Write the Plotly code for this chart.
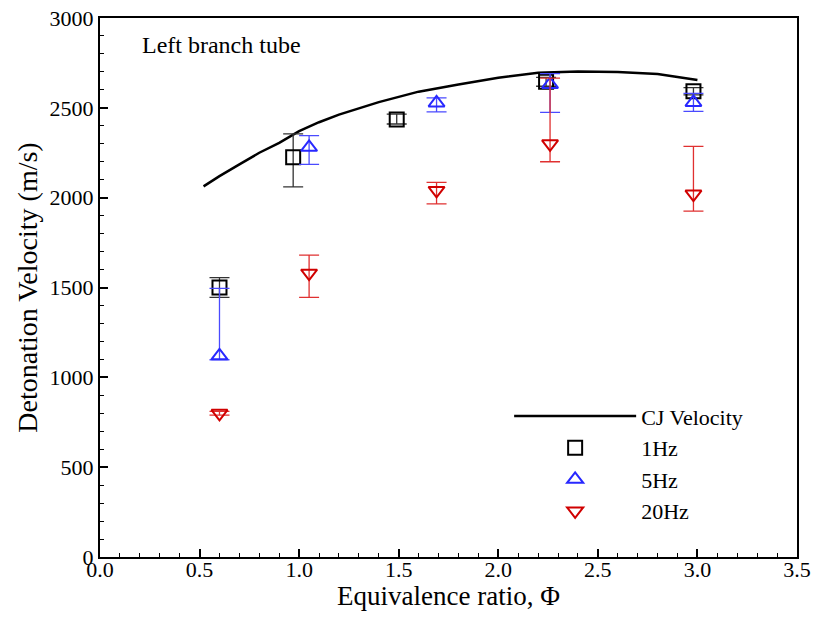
import plotly.graph_objects as go

# CJ velocity curve
cj_phi = [0.52, 0.6, 0.7, 0.8, 0.9, 1.0, 1.1, 1.2, 1.4, 1.6, 1.8, 2.0, 2.2, 2.4, 2.6, 2.8, 3.0]
cj_vel = [2063, 2120, 2185, 2250, 2305, 2370, 2420, 2462, 2532, 2590, 2630, 2668, 2695, 2702, 2700, 2688, 2655]

# 1 Hz
hz1_phi = [0.60, 0.97, 1.49, 2.24, 2.98]
hz1_vel = [1500, 2225, 2435, 2645, 2592]
hz1_up = [55, 130, 30, 25, 20]
hz1_dn = [55, 165, 25, 25, 20]

# 5 Hz
hz5_phi = [0.60, 1.05, 1.69, 2.26, 2.98]
hz5_vel = [1120, 2280, 2527, 2630, 2530]
hz5_up = [375, 65, 28, 60, 50]
hz5_dn = [22, 95, 50, 155, 50]

# 20 Hz
hz20_phi = [0.60, 1.05, 1.69, 2.26, 2.98]
hz20_vel = [800, 1580, 2040, 2300, 2020]
hz20_up = [10, 100, 45, 365, 265]
hz20_dn = [10, 135, 75, 100, 95]

FONT = "Liberation Serif, Times New Roman, serif"

fig = go.Figure()
fig.add_trace(go.Scatter(x=cj_phi, y=cj_vel, mode="lines", name="CJ Velocity",
                         line=dict(color="black", width=2.5)))
fig.add_trace(go.Scatter(
    x=hz1_phi, y=hz1_vel, mode="markers", name="1Hz",
    marker=dict(symbol="square-open", size=14, color="black", line=dict(width=2)),
    error_y=dict(type="data", symmetric=False, array=hz1_up, arrayminus=hz1_dn,
                 color="#333333", thickness=1.3, width=10)))
fig.add_trace(go.Scatter(
    x=hz5_phi, y=hz5_vel, mode="markers", name="5Hz",
    marker=dict(symbol="triangle-up-open", size=14, color="#2828ff", line=dict(width=2)),
    error_y=dict(type="data", symmetric=False, array=hz5_up, arrayminus=hz5_dn,
                 color="#4a4aff", thickness=1.3, width=10)))
fig.add_trace(go.Scatter(
    x=hz20_phi, y=hz20_vel, mode="markers", name="20Hz",
    marker=dict(symbol="triangle-down-open", size=14, color="#d00000", line=dict(width=2)),
    error_y=dict(type="data", symmetric=False, array=hz20_up, arrayminus=hz20_dn,
                 color="#e03030", thickness=1.3, width=10)))

axis_common = dict(
    showline=True, linecolor="black", linewidth=2, mirror=True,
    ticks="inside", ticklen=8, tickwidth=1.5, tickcolor="black",
    showgrid=False, zeroline=False, automargin=False,
    tickfont=dict(family=FONT, size=22, color="black"),
)

fig.update_layout(
    width=822, height=617,
    margin=dict(l=100, r=25, t=18, b=60, autoexpand=False),
    paper_bgcolor="white", plot_bgcolor="white",
    font=dict(family=FONT, color="black"),
    xaxis=dict(range=[0, 3.5], dtick=0.5, tickformat=".1f", ticklabelstandoff=-8,
               minor=dict(dtick=0.1, ticks="inside", ticklen=4, tickcolor="black", tickwidth=1),
               **axis_common),
    yaxis=dict(range=[0, 3000], dtick=500,
               minor=dict(dtick=100, ticks="inside", ticklen=4, tickcolor="black", tickwidth=1),
               title=dict(text="Detonation Velocity (m/s)", font=dict(family=FONT, size=28), standoff=4),
               **axis_common),
    showlegend=True,
    legend=dict(x=0.587, y=0.30, xanchor="left", yanchor="top",
                bgcolor="rgba(0,0,0,0)", font=dict(family=FONT, size=22),
                itemwidth=122, tracegroupgap=0),
    annotations=[
        dict(text="Left branch tube", xref="paper", yref="paper",
             x=0.057, y=0.95, xanchor="left", yanchor="middle",
             showarrow=False, font=dict(family=FONT, size=24, color="black")),
        dict(text="Equivalence ratio, Φ", xref="paper", yref="paper",
             x=0.5, y=-0.072, xanchor="center", yanchor="middle",
             showarrow=False, font=dict(family=FONT, size=27, color="black")),
    ],
)

fig.write_html("out.html")
